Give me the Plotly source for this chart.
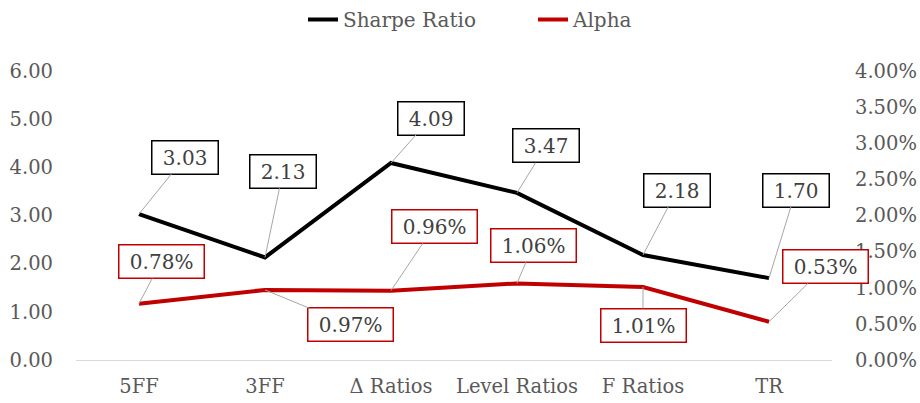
import plotly.graph_objects as go

categories = ["5FF", "3FF", "Δ Ratios", "Level Ratios", "F Ratios", "TR"]
sharpe = [3.03, 2.13, 4.09, 3.47, 2.18, 1.70]
alpha = [0.0078, 0.0097, 0.0096, 0.0106, 0.0101, 0.0053]
sharpe_labels = ["3.03", "2.13", "4.09", "3.47", "2.18", "1.70"]
alpha_labels = ["0.78%", "0.97%", "0.96%", "1.06%", "1.01%", "0.53%"]
y_ticks = [0, 1, 2, 3, 4, 5, 6]
y2_ticks = [0, 0.005, 0.01, 0.015, 0.02, 0.025, 0.03, 0.035, 0.04]

# label offsets (pixels) from the data point to the label box centre
sharpe_off = [(46, -57), (18, -86), (40, -45), (29, -47), (34, -65), (27, -88)]
alpha_off = [(22, -42), (85, 35), (43, -64), (16, -38), (0, 38), (56, -55)]

FONT = "DejaVu Serif"
GREY = "#595959"

fig = go.Figure()
fig.add_trace(go.Scatter(x=categories, y=sharpe, name="Sharpe Ratio", mode="lines",
                         line=dict(color="#000000", width=4)))
fig.add_trace(go.Scatter(x=categories, y=alpha, name="Alpha", mode="lines", yaxis="y2",
                         line=dict(color="#C00000", width=4)))

ann = []
for c, v, t, (dx, dy) in zip(categories, sharpe, sharpe_labels, sharpe_off):
    ann.append(dict(x=c, y=v, xref="x", yref="y", text="&nbsp;" + t + "&nbsp;", showarrow=True,
                    ax=dx, ay=dy, arrowhead=0, arrowwidth=1, arrowcolor="#A6A6A6",
                    bordercolor="#000000", borderwidth=1.5, bgcolor="#FFFFFF", borderpad=4,
                    font=dict(family=FONT, size=20, color="#404040")))
for c, v, t, (dx, dy) in zip(categories, alpha, alpha_labels, alpha_off):
    ann.append(dict(x=c, y=v, xref="x", yref="y2", text="&nbsp;" + t + "&nbsp;", showarrow=True,
                    ax=dx, ay=dy, arrowhead=0, arrowwidth=1, arrowcolor="#A6A6A6",
                    bordercolor="#C00000", borderwidth=1.5, bgcolor="#FFFFFF", borderpad=4,
                    font=dict(family=FONT, size=20, color="#404040")))

fig.update_layout(
    width=920, height=403,
    margin=dict(l=76, r=88, t=71, b=43, autoexpand=False),
    plot_bgcolor="#FFFFFF", paper_bgcolor="#FFFFFF",
    font=dict(family=FONT, size=19.5, color=GREY),
    showlegend=True,
    legend=dict(orientation="h", x=(303 - 76) / 756, xanchor="left", y=1.0, yref="container",
                yanchor="top", font=dict(family=FONT, size=20, color=GREY),
                entrywidth=185, entrywidthmode="pixels", tracegroupgap=0),
    xaxis=dict(showgrid=False, showline=True, linecolor="#D9D9D9", linewidth=1,
               range=[-0.5, 5.5], ticks="", ticklabelstandoff=9, automargin=False,
               tickfont=dict(family=FONT, size=19.5, color=GREY)),
    yaxis=dict(range=[0, 6], tickvals=y_ticks, tickformat=".2f", showgrid=False,
               zeroline=False, showline=False, ticklabelstandoff=22, automargin=False,
               tickfont=dict(family=FONT, size=19.5, color=GREY)),
    yaxis2=dict(range=[0, 0.04], tickvals=y2_ticks, tickformat=".2%", overlaying="y",
                side="right", showgrid=False, zeroline=False, showline=False,
                ticklabelstandoff=22, automargin=False,
                tickfont=dict(family=FONT, size=19.5, color=GREY)),
    annotations=ann,
)

fig.write_html("out.html")
